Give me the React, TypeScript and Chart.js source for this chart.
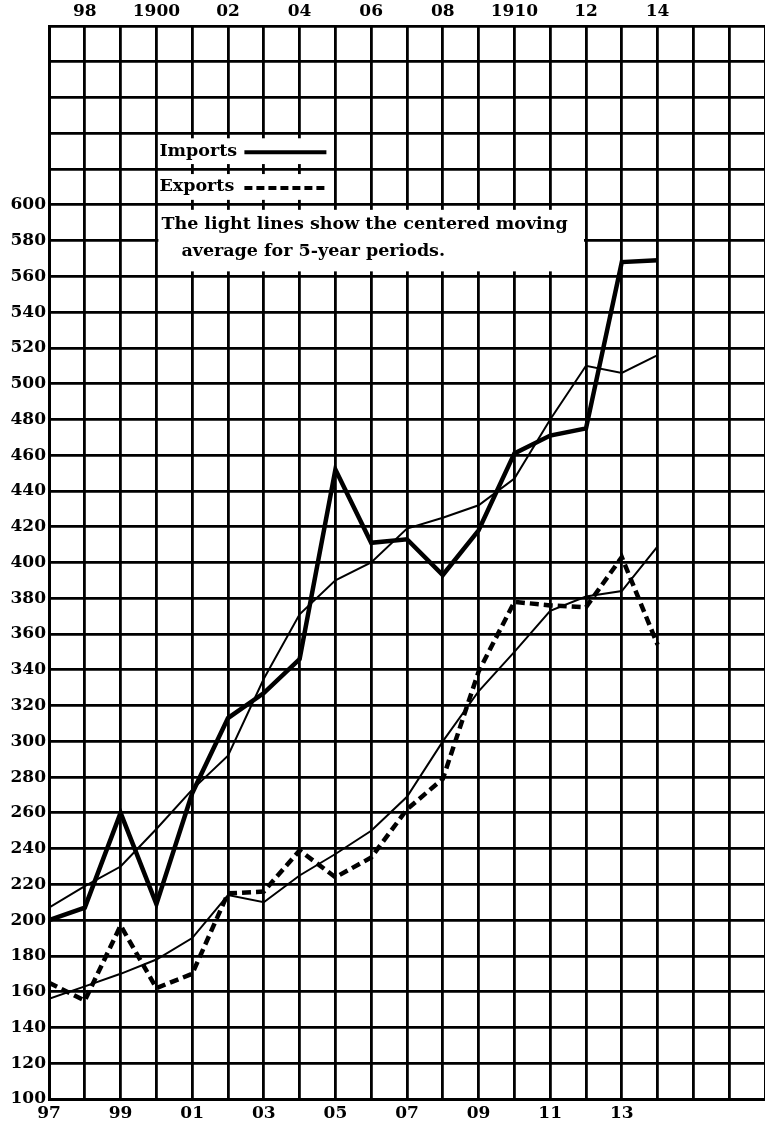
import React, { useEffect, useRef } from 'react';
import { Chart, registerables } from 'chart.js';

Chart.register(...registerables);

const years = [1897, 1898, 1899, 1900, 1901, 1902, 1903, 1904, 1905, 1906, 1907, 1908, 1909, 1910, 1911, 1912, 1913, 1914];
const imports = [200, 207, 260, 209, 271, 313, 327, 346, 452, 411, 413, 393, 418, 461, 471, 475, 568, 569];
const exportsVals = [165, 155, 197, 162, 170, 215, 216, 239, 224, 235, 262, 279, 339, 378, 376, 375, 403, 354];
const importsAvg = [207, 219, 230, 251, 273, 292, 335, 371, 390, 400, 419, 425, 432, 447, 480, 510, 506, 516];
const exportsAvg = [156, 163, 170, 178, 190, 214, 210, 225, 237, 250, 269, 300, 328, 350, 373, 381, 384, 409];

const bottomYearLabels = [1897, 1899, 1901, 1903, 1905, 1907, 1909, 1911, 1913];
const topYearLabels = [1898, 1900, 1902, 1904, 1906, 1908, 1910, 1912, 1914];
const fullYearLabels = [1900, 1910];

const legendImports = 'Imports';
const legendExports = 'Exports';
const noteLine1 = 'The light lines show the centered moving';
const noteLine2 = 'average for 5-year periods.';

const FONT = '"DejaVu Serif", "Liberation Serif", serif';

const toPoints = (vals: number[]) => years.map((yr, i) => ({ x: yr, y: vals[i] }));
const yearLabel = (v: number) => (fullYearLabels.includes(v) ? String(v) : String(v % 100).padStart(2, '0'));

const notesPlugin = {
  id: 'notes',
  afterDatasetsDraw(chart: any) {
    const { ctx, scales } = chart;
    const x = scales.x;
    const y = scales.y;
    ctx.save();
    ctx.fillStyle = '#ffffff';
    const box = (x0: number, x1: number, v0: number, v1: number) => {
      const l = x.getPixelForValue(x0) + 2;
      const r = x.getPixelForValue(x1) - 2;
      const t = y.getPixelForValue(v0) + 5;
      const b = y.getPixelForValue(v1) - 5;
      ctx.fillRect(l, t, r - l, b - t);
    };
    box(1900, 1905, 640, 620);
    box(1900, 1905, 620, 600);
    box(1900, 1912, 600, 560);

    const left = x.getPixelForValue(1900);
    ctx.fillStyle = '#000';
    ctx.strokeStyle = '#000';
    ctx.font = `bold 17.5px ${FONT}`;
    ctx.textBaseline = 'middle';
    ctx.textAlign = 'left';
    const yImp = y.getPixelForValue(630);
    const yExp = y.getPixelForValue(610);
    ctx.fillText(legendImports, left + 3, yImp);
    ctx.fillText(legendExports, left + 3, yExp);

    ctx.lineWidth = 4;
    ctx.setLineDash([]);
    ctx.beginPath();
    ctx.moveTo(left + 88, yImp + 1);
    ctx.lineTo(left + 170, yImp + 1);
    ctx.stroke();

    ctx.setLineDash([8, 4]);
    ctx.beginPath();
    ctx.moveTo(left + 88, yExp + 1);
    ctx.lineTo(left + 172, yExp + 1);
    ctx.stroke();
    ctx.setLineDash([]);

    ctx.fillText(noteLine1, left + 5, y.getPixelForValue(589));
    ctx.fillText(noteLine2, left + 25, y.getPixelForValue(574));
    ctx.restore();
  },
};

export default function App() {
  const canvasRef = useRef<HTMLCanvasElement | null>(null);

  useEffect(() => {
    const canvas = canvasRef.current;
    if (!canvas) return;
    const tickFont = { family: FONT, size: 17, weight: 'bold' as const };
    const chart = new Chart(canvas, {
      type: 'line',
      data: {
        datasets: [
          {
            label: 'Imports',
            data: toPoints(imports),
            borderColor: '#000',
            borderWidth: 4.5,
            pointRadius: 0,
            tension: 0,
            xAxisID: 'x',
            yAxisID: 'y',
          },
          {
            label: 'Exports',
            data: toPoints(exportsVals),
            borderColor: '#000',
            borderWidth: 4.5,
            borderDash: [9, 5],
            pointRadius: 0,
            tension: 0,
            xAxisID: 'x',
            yAxisID: 'y',
          },
          {
            label: 'Imports 5-year average',
            data: toPoints(importsAvg),
            borderColor: '#000',
            borderWidth: 2,
            pointRadius: 0,
            tension: 0,
            xAxisID: 'x',
            yAxisID: 'y',
          },
          {
            label: 'Exports 5-year average',
            data: toPoints(exportsAvg),
            borderColor: '#000',
            borderWidth: 2,
            pointRadius: 0,
            tension: 0,
            xAxisID: 'x',
            yAxisID: 'y',
          },
        ],
      },
      options: {
        responsive: false,
        animation: false,
        devicePixelRatio: 1,
        layout: { padding: 0 },
        plugins: {
          legend: { display: false },
          tooltip: { enabled: false },
        },
        scales: {
          x: {
            type: 'linear',
            position: 'bottom',
            min: 1897,
            max: 1917,
            afterFit: (s: any) => {
              s.height = 24;
              s.paddingRight = 0;
              s.paddingLeft = 0;
            },
            ticks: {
              stepSize: 1,
              autoSkip: false,
              maxRotation: 0,
              padding: 4,
              color: '#000',
              font: tickFont,
              callback: (v: any) => (bottomYearLabels.includes(v) ? yearLabel(v) : ''),
            },
            grid: { color: '#000', lineWidth: 2.8, drawTicks: false },
            border: { color: '#000', width: 3 },
          },
          x2: {
            type: 'linear',
            position: 'top',
            min: 1897,
            max: 1917,
            afterFit: (s: any) => {
              s.height = 26;
              s.paddingRight = 0;
              s.paddingLeft = 0;
            },
            ticks: {
              stepSize: 1,
              autoSkip: false,
              maxRotation: 0,
              padding: 4,
              color: '#000',
              font: tickFont,
              callback: (v: any) => (topYearLabels.includes(v) ? yearLabel(v) : ''),
            },
            grid: { display: false, drawTicks: false },
            border: { display: false },
          },
          y: {
            type: 'linear',
            min: 100,
            max: 700,
            afterFit: (s: any) => {
              s.width = 49;
              s.paddingTop = 0;
              s.paddingBottom = 0;
            },
            ticks: {
              stepSize: 20,
              autoSkip: false,
              padding: 3,
              color: '#000',
              font: tickFont,
              callback: (v: any) => (v <= 600 ? String(v) : ''),
            },
            grid: { color: '#000', lineWidth: 2.8, drawTicks: false },
            border: { color: '#000', width: 3 },
          },
        },
      },
      plugins: [notesPlugin],
    });
    return () => chart.destroy();
  }, []);

  return (
    <canvas
      ref={canvasRef}
      width={765}
      height={1123}
      style={{ position: 'absolute', left: 0, top: 0, width: 765, height: 1123, background: '#fff' }}
    />
  );
}
